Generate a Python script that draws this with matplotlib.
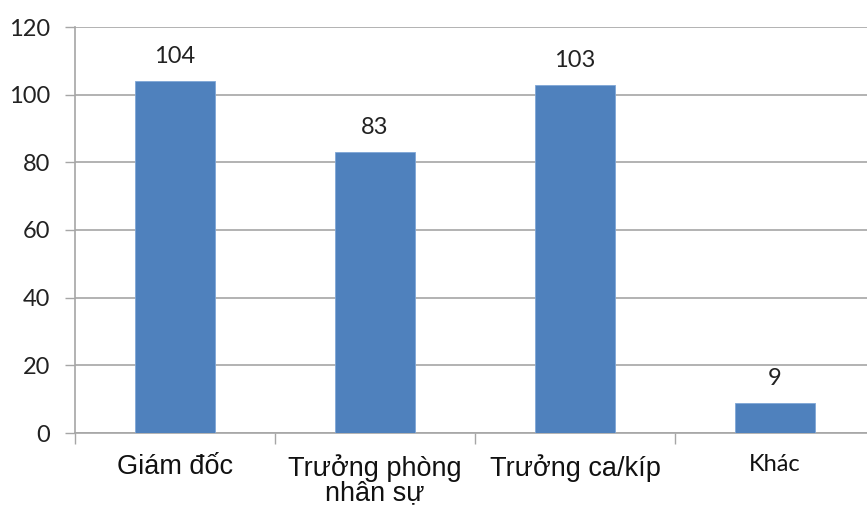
import matplotlib
matplotlib.use("Agg")
import matplotlib.pyplot as plt
import numpy as np

categories = ["Giám đốc", "Trưởng phòng\nnhân sự", "Trưởng ca/kíp", "Khác"]
values = [104, 83, 103, 9]
y_ticks = [0, 20, 40, 60, 80, 100, 120]

W, H = 867, 507
fig = plt.figure(figsize=(W / 100, H / 100), dpi=100)
left_px, right_px, top_px, bottom_px = 75, 867, 27, 433
ax = fig.add_axes([left_px / W, (H - bottom_px) / H,
                   (right_px - left_px) / W, (bottom_px - top_px) / H])

x = np.arange(len(categories))
bar_color = "#4F81BD"
bars = ax.bar(x, values, width=0.4, color=bar_color, edgecolor="#7FA6D6",
              linewidth=0.6, zorder=3)

# category slots are 200 px wide; the last slot is cut by the figure edge
slot_px = 200
ax.set_xlim(-0.5, -0.5 + (right_px - left_px) / slot_px)
ax.set_ylim(0, 120)

grid_color = "#A6A6A6"
ax.set_yticks(y_ticks)
ax.set_yticklabels([str(v) for v in y_ticks], fontfamily="Lato", fontsize=17,
                   color="#222222")
ax.yaxis.grid(True, color=grid_color, linewidth=1.2, zorder=0)
ax.tick_params(axis="y", length=7, width=1, color=grid_color, pad=11)

# tick marks sit on the boundaries between categories
ax.set_xticks(np.arange(0, len(categories)) - 0.5)
ax.set_xticklabels([])
ax.tick_params(axis="x", length=8, width=1, color=grid_color)
ax.set_xticks(x, minor=True)
ax.tick_params(axis="x", which="minor", length=0, pad=15)
ax.set_xticklabels(categories, minor=True)
for lbl, txt in zip(ax.get_xticklabels(minor=True), categories):
    if txt == "Khác":
        lbl.set_fontfamily("Lato")
        lbl.set_fontsize(17)
    else:
        lbl.set_fontfamily("Liberation Sans")
        lbl.set_fontsize(19.5)
        lbl.set_linespacing(0.95)
    lbl.set_color("#111111")

for s in ["top", "right"]:
    ax.spines[s].set_visible(False)
for s in ["left", "bottom"]:
    ax.spines[s].set_color(grid_color)
    ax.spines[s].set_linewidth(1.2)

for rect, v in zip(bars, values):
    ax.annotate(str(v), (rect.get_x() + rect.get_width() / 2, v),
                xytext=(0, 10), textcoords="offset points",
                ha="center", va="bottom", fontfamily="Lato", fontsize=17,
                color="#222222")

fig.savefig("out.png", dpi=100)
